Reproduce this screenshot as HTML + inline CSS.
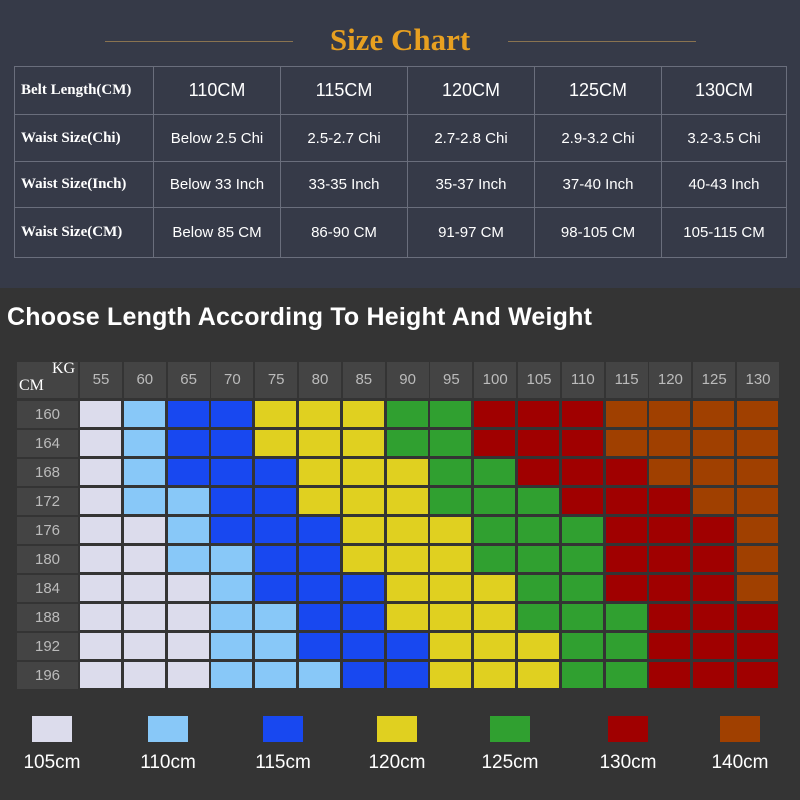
<!DOCTYPE html>
<html><head><meta charset="utf-8"><style>
body{margin:0;width:800px;height:800px;overflow:hidden;font-family:"Liberation Sans",sans-serif;}
.top{position:absolute;left:0;top:0;width:800px;height:288px;background:#363a48;}
.bot{position:absolute;left:0;top:288px;width:800px;height:512px;background:#343434;}
.a{position:absolute;}
table{position:absolute;left:14px;top:66px;border-collapse:collapse;}
td{border:1.5px solid #6a6e7c;color:#fff;text-align:center;font-size:15px;padding:0;}
td.h{font-family:"Liberation Serif",serif;text-align:left;padding-left:6px;font-size:15px;font-weight:bold;}
.cell{position:absolute;width:41px;height:26px;}
.hd{position:absolute;background:#444;color:#bbb;font-size:15px;text-align:center;}
.lg{position:absolute;width:40px;height:26px;top:716px;}
.lt{position:absolute;top:752px;width:100px;text-align:center;color:#fff;font-size:19px;}
</style></head><body>
<div class="top"></div><div class="bot"></div>
<div class="a" style="left:105px;top:41px;width:188px;height:1px;background:#8a7350"></div>
<div class="a" style="left:508px;top:41px;width:188px;height:1px;background:#8a7350"></div>
<div class="a" style="left:300px;top:22px;width:200px;text-align:center;color:#e8a020;font-family:'Liberation Serif',serif;font-size:31px;font-weight:bold;">Size Chart</div>
<table>
<tr style="height:48px"><td class="h" style="width:132px">Belt Length(CM)</td><td style="width:126px;font-size:18px">110CM</td><td style="width:126px;font-size:18px">115CM</td><td style="width:126px;font-size:18px">120CM</td><td style="width:126px;font-size:18px">125CM</td><td style="width:124px;font-size:18px">130CM</td></tr>
<tr style="height:47px"><td class="h">Waist Size(Chi)</td><td>Below 2.5 Chi</td><td>2.5-2.7 Chi</td><td>2.7-2.8 Chi</td><td>2.9-3.2 Chi</td><td>3.2-3.5 Chi</td></tr>
<tr style="height:46px"><td class="h">Waist Size(Inch)</td><td>Below 33 Inch</td><td>33-35 Inch</td><td>35-37 Inch</td><td>37-40 Inch</td><td>40-43 Inch</td></tr>
<tr style="height:50px"><td class="h">Waist Size(CM)</td><td>Below 85 CM</td><td>86-90 CM</td><td>91-97 CM</td><td>98-105 CM</td><td>105-115 CM</td></tr>
</table>
<div class="a" style="left:7px;top:303px;color:#fff;font-weight:bold;font-size:25px;letter-spacing:0.2px">Choose Length According To Height And Weight</div>
<div class="a" style="left:17px;top:362px;width:61px;height:36px;background:#444"></div>
<div class="a" style="left:52px;top:360px;color:#fff;font-family:'Liberation Serif',serif;font-size:16px">KG</div>
<div class="a" style="left:19px;top:377px;color:#fff;font-family:'Liberation Serif',serif;font-size:16px">CM</div>
<div id="g"></div>
<div class="lg" style="left:32px;background:#dcdcec"></div><div class="lt" style="left:2px">105cm</div>
<div class="lg" style="left:148px;background:#88c8f8"></div><div class="lt" style="left:118px">110cm</div>
<div class="lg" style="left:263px;background:#1848f0"></div><div class="lt" style="left:233px">115cm</div>
<div class="lg" style="left:377px;background:#e0d020"></div><div class="lt" style="left:347px">120cm</div>
<div class="lg" style="left:490px;background:#30a030"></div><div class="lt" style="left:460px">125cm</div>
<div class="lg" style="left:608px;background:#a00000"></div><div class="lt" style="left:578px">130cm</div>
<div class="lg" style="left:720px;background:#a04000"></div><div class="lt" style="left:690px">140cm</div>
<script>
var rows=["WLBBYYYGGRRROOOO","WLBBYYYGGRRROOOO","WLBBBYYYGGRRROOO","WLLBBYYYGGGRRROO","WWLBBBYYYGGGRRRO","WWLLBBYYYGGGRRRO","WWWLBBBYYYGGRRRO","WWWLLBBYYYGGGRRR","WWWLLBBBYYYGGRRR","WWWLLLBBYYYGGRRR"];
var c={W:"#dcdcec",L:"#88c8f8",B:"#1848f0",Y:"#e0d020",G:"#30a030",R:"#a00000",O:"#a04000"};
var h="",ks=[55,60,65,70,75,80,85,90,95,100,105,110,115,120,125,130],hs=[160,164,168,172,176,180,184,188,192,196];
for(var j=0;j<16;j++){var x=80+j*43.8;h+='<div class="hd" style="left:'+x+'px;top:362px;width:42px;height:36px;line-height:36px">'+ks[j]+'</div>';}
for(var i=0;i<10;i++){var y=401+i*29;h+='<div class="hd" style="left:17px;top:'+y+'px;width:61px;height:27px;line-height:27px">'+hs[i]+'</div>';
for(var j=0;j<16;j++){h+='<div class="cell" style="left:'+(80+j*43.8)+'px;top:'+y+'px;background:'+c[rows[i][j]]+'"></div>';}}
document.getElementById("g").innerHTML=h;
</script>
</body></html>
